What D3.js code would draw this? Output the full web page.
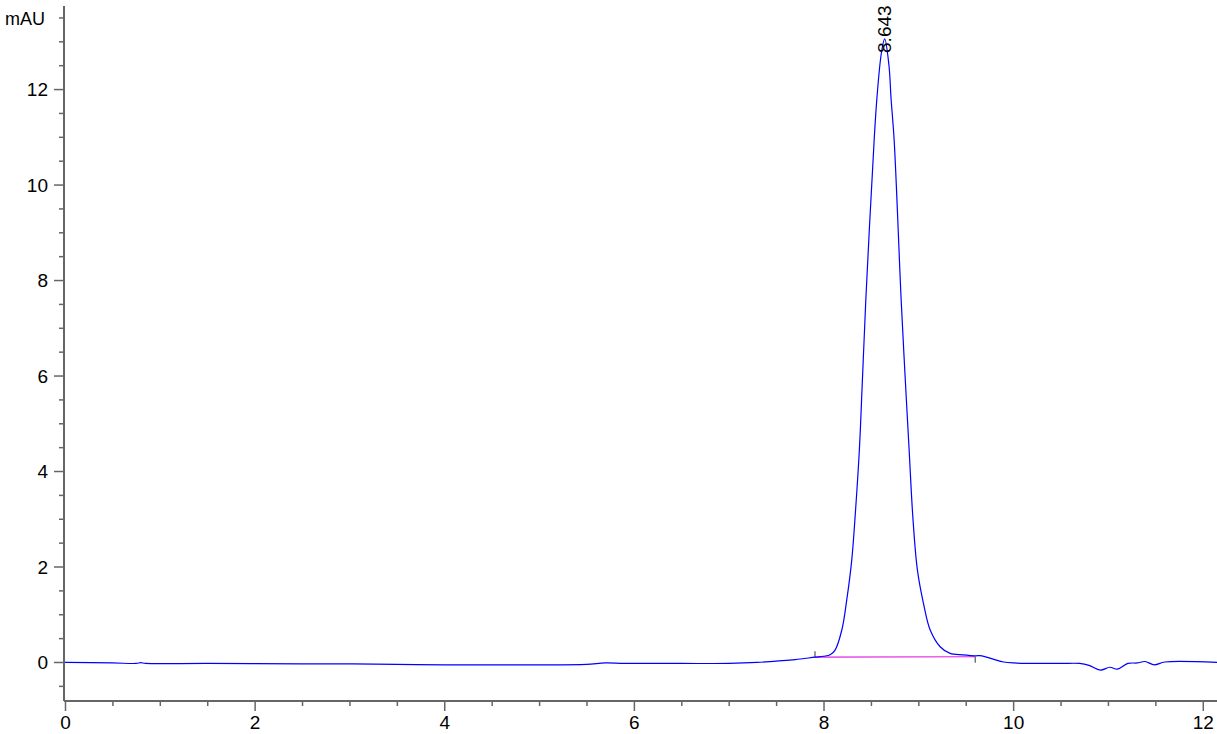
<!DOCTYPE html>
<html>
<head>
<meta charset="utf-8">
<script src="https://cdn.jsdelivr.net/npm/d3@7"></script>
<style>
  body { margin: 0; background: #fff; }
  text { font-family: Arial, "Liberation Sans", sans-serif; fill: #000; }
</style>
</head>
<body>
<script>
var svgWidth = 1217;
var svgHeight = 734;

// retention time (min) and signal (mAU)
var times = [0, 0.5, 0.75, 0.8, 0.85, 1.5, 2.5, 3.0, 3.5, 4.0, 4.5, 5.0, 5.5, 5.7, 5.9, 6.5, 7.0, 7.3, 7.5, 7.7, 7.91,
  8.0, 8.07, 8.122, 8.193, 8.245, 8.298, 8.333, 8.378, 8.41, 8.446, 8.534, 8.562, 8.61, 8.645, 8.69, 8.713, 8.745,
  8.819, 8.86, 8.903, 8.942, 8.99, 9.054, 9.125, 9.23, 9.335, 9.47, 9.6, 9.67, 9.79, 9.9, 10.0, 10.5, 10.7, 10.8,
  10.92, 11.02, 11.1, 11.21, 11.31, 11.39, 11.49, 11.6, 12.15];
var signal = [-0.01, -0.02, -0.03, -0.015, -0.03, -0.03, -0.04, -0.04, -0.05, -0.06, -0.06, -0.06, -0.05, -0.02, -0.03, -0.03, -0.03, -0.01, 0.02, 0.05, 0.10,
  0.12, 0.15, 0.25, 0.67, 1.30, 2.14, 3.04, 4.44, 5.9, 7.58, 10.93, 11.78, 12.75, 13.05, 12.5, 11.78, 10.93,
  7.58, 6.0, 4.44, 3.04, 1.93, 1.23, 0.67, 0.32, 0.18, 0.15, 0.13, 0.13, 0.06, 0.0, -0.02, -0.03, -0.03, -0.07,
  -0.17, -0.11, -0.15, -0.03, -0.02, 0.01, -0.06, 0.0, -0.01];

// integration baseline of the peak
var baseTimes = [7.91, 9.6];
var baseValues = [0.10, 0.11];

var peakTime = 8.643;
var peakValue = 13.05;
var peakLabel = "8.643";

var xMajor = [0, 2, 4, 6, 8, 10, 12];
var yMajor = [0, 2, 4, 6, 8, 10, 12];

var data = times.map(function(t, i) { return { t: t, v: signal[i] }; });

var svg = d3.select("body").append("svg")
  .attr("width", svgWidth)
  .attr("height", svgHeight);

var x = d3.scaleLinear().domain([0, 12.15]).range([65, 1217]);
var y = d3.scaleLinear().domain([-0.817, 13.74]).range([701, 6]);

var axisColor = "#666";

// minor ticks every 0.5
var xMinor = d3.range(0, 12.01, 0.5).filter(function(d) { return d % 2 !== 0; });
var yMinor = d3.range(-0.5, 13.6, 0.5).filter(function(d) { return d % 2 !== 0; });

var xAxisMinor = d3.axisBottom(x).tickValues(xMinor).tickSize(5).tickFormat("");
var xAxisMajor = d3.axisBottom(x).tickValues(xMajor).tickSize(10).tickPadding(5).tickFormat(d3.format("d"));
var yAxisMinor = d3.axisLeft(y).tickValues(yMinor).tickSize(5).tickFormat("");
var yAxisMajor = d3.axisLeft(y).tickValues(yMajor).tickSize(10).tickPadding(6).tickFormat(d3.format("d"));

function styleAxis(g) {
  g.select(".domain").remove();
  g.selectAll(".tick line").attr("stroke", axisColor).attr("stroke-width", 1.5);
  g.selectAll(".tick text").style("font-size", "19px").attr("fill", "#000");
}

svg.append("g").attr("transform", "translate(0,701)").call(xAxisMinor).call(styleAxis);
svg.append("g").attr("transform", "translate(0,701)").call(xAxisMajor).call(styleAxis);
svg.append("g").attr("transform", "translate(64,0)").call(yAxisMinor).call(styleAxis);
svg.append("g").attr("transform", "translate(64,0)").call(yAxisMajor).call(styleAxis)
  .selectAll(".tick text").attr("dy", "0.35em");

// axis lines
svg.append("line").attr("x1", 64).attr("x2", 1217).attr("y1", 701).attr("y2", 701)
  .attr("stroke", axisColor).attr("stroke-width", 2);
svg.append("line").attr("x1", 64).attr("x2", 64).attr("y1", 6).attr("y2", 701)
  .attr("stroke", axisColor).attr("stroke-width", 2);

svg.append("text")
  .attr("x", 5).attr("y", 25)
  .style("font-size", "18px")
  .text("mAU");

// baseline of the integrated peak
svg.append("line")
  .attr("x1", x(baseTimes[0])).attr("y1", y(baseValues[0]))
  .attr("x2", x(baseTimes[1])).attr("y2", y(baseValues[1]))
  .attr("stroke", "#e020e0").attr("stroke-width", 1.2);

// start / end markers
svg.append("line")
  .attr("x1", x(baseTimes[0])).attr("x2", x(baseTimes[0]))
  .attr("y1", y(baseValues[0]) - 6).attr("y2", y(baseValues[0]))
  .attr("stroke", "#555").attr("stroke-width", 1.2);
svg.append("line")
  .attr("x1", x(baseTimes[1])).attr("x2", x(baseTimes[1]))
  .attr("y1", y(baseValues[1])).attr("y2", y(baseValues[1]) + 6)
  .attr("stroke", "#555").attr("stroke-width", 1.2);

// chromatogram trace
var line = d3.line()
  .x(function(d) { return x(d.t); })
  .y(function(d) { return y(d.v); })
  .curve(d3.curveCatmullRom.alpha(0.5));

svg.append("path")
  .datum(data)
  .attr("d", line)
  .attr("fill", "none")
  .attr("stroke", "#0000ff")
  .attr("stroke-width", 1.2);

// peak label
var lx = x(peakTime) + 7;
var ly = y(peakValue) + 14;
svg.append("text")
  .attr("transform", "translate(" + lx + "," + ly + ") rotate(-90)")
  .style("font-size", "19px")
  .text(peakLabel);
</script>
</body>
</html>
